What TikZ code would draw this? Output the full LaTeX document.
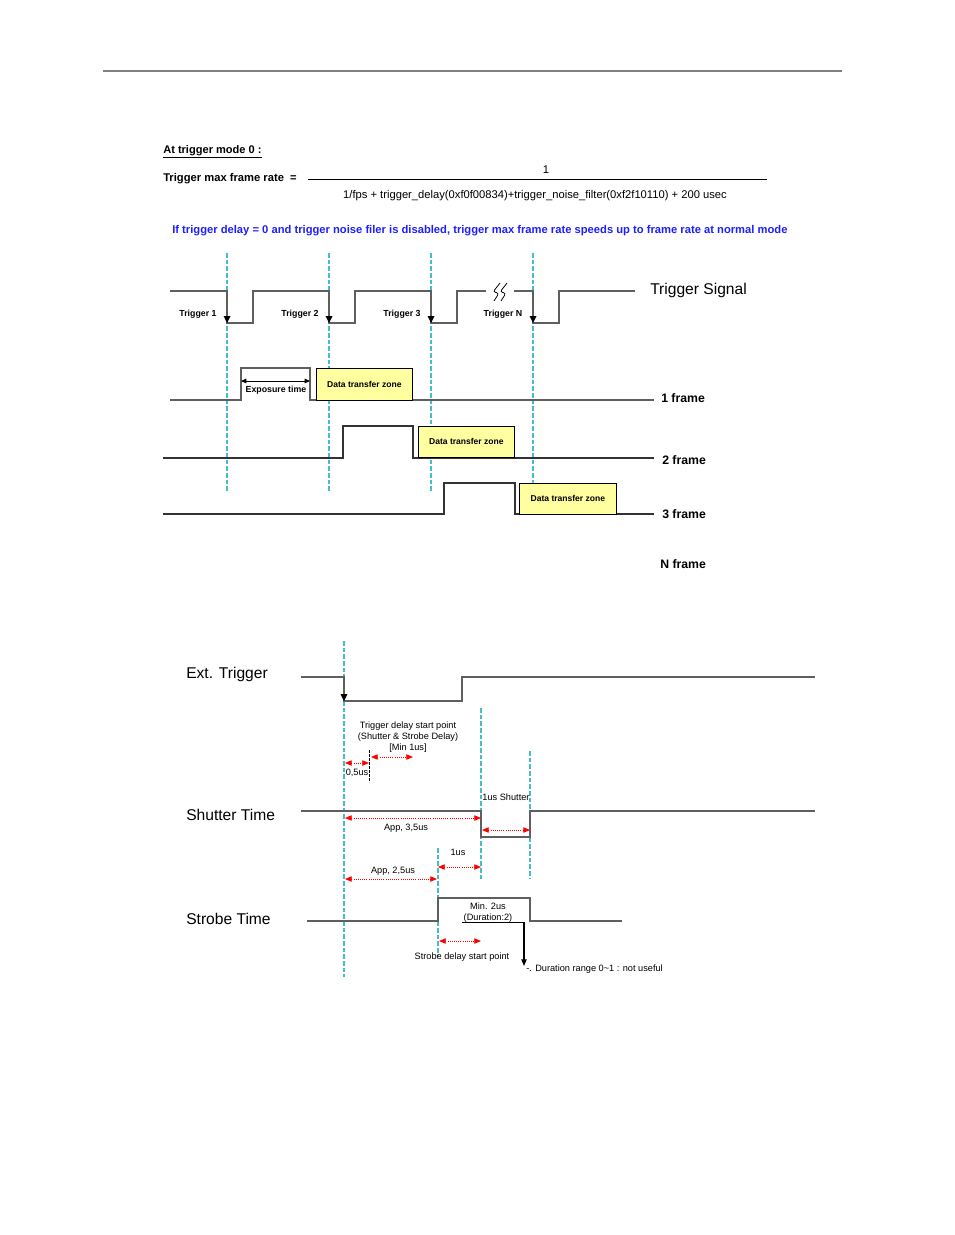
\documentclass[tikz,border=0pt]{standalone}
\usepackage{fontspec}
\setmainfont{Liberation Sans}
\usetikzlibrary{arrows.meta}
\definecolor{cy}{RGB}{70,190,200}
\definecolor{sig}{RGB}{95,95,95}
\definecolor{dtz}{RGB}{255,255,160}
\definecolor{bl}{RGB}{30,30,255}
\definecolor{rd}{RGB}{255,0,0}
\begin{document}
\begin{tikzpicture}[x=0.75pt,y=-0.75pt,
  cdash/.style={cy,line width=0.9pt,dash pattern=on 3.5pt off 1.5pt},
  sigline/.style={sig,line width=1.1pt},
  rarrow/.style={rd,line width=0.6pt,densely dotted,{Triangle[width=4pt,length=5pt]}-{Triangle[width=4pt,length=5pt]}},
  barrow/.style={black,line width=0.6pt,{Triangle[width=3.5pt,length=4pt]}-{Triangle[width=3.5pt,length=4pt]}},
  dtzbox/.style={draw=black,fill=dtz,line width=0.6pt,font=\bfseries\fontsize{6.4}{7}\selectfont,inner sep=0pt},
  small/.style={font=\fontsize{6.9}{8}\selectfont,inner sep=0pt},
  tlab/.style={font=\bfseries\fontsize{6.6}{7}\selectfont,inner sep=0pt},
  flab/.style={font=\bfseries\fontsize{9.2}{10}\selectfont,anchor=west,inner sep=0pt},
  biglab/.style={font=\fontsize{11.7}{13}\selectfont,anchor=west,inner sep=0pt},
  tip/.style={fill=black}
]
\useasboundingbox (0,0) rectangle (954,1235);
% header rule
\draw[gray,line width=1pt] (103,71) -- (842,71);
% formula
\node[anchor=west,inner sep=0pt,font=\bfseries\fontsize{8.3}{9}\selectfont] (mode) at (163,152) {\underline{At trigger mode 0 :}};
\node[anchor=west,inner sep=0pt,font=\bfseries\fontsize{8.4}{9}\selectfont] (tmf) at (163,178.5) {Trigger max frame rate \ =};
\draw[black,line width=0.5pt] (308,179) -- (767,179);
\node[inner sep=0pt,font=\fontsize{8.4}{9}\selectfont] (one) at (546,170) {1};
\node[inner sep=0pt,font=\fontsize{8.4}{9}\selectfont] (den) at (535,195.5) {1/fps + trigger\_delay(0xf0f00834)+trigger\_noise\_filter(0xf2f10110) + 200 usec};
\node[anchor=west,inner sep=0pt,text=bl,font=\bfseries\fontsize{8.4}{9}\selectfont] (note) at (172,230.5) {If trigger delay = 0 and trigger noise filer is disabled, trigger max frame rate speeds up to frame rate at normal mode};
% dashed cyan lines (upper)
\draw[cdash] (227,253) -- (227,492);
\draw[cdash] (329,253) -- (329,492);
\draw[cdash] (431,253) -- (431,492);
\draw[cdash] (533,253) -- (533,505);
% trigger signal
\draw[sigline] (170,291) -- (227,291) -- (227,323) -- (253,323) -- (253,291) -- (329,291) -- (329,323) -- (355,323) -- (355,291) -- (431,291) -- (431,323) -- (457,323) -- (457,291) -- (486,291);
\draw[sigline] (514,291) -- (533,291) -- (533,323) -- (559,323) -- (559,291) -- (635,291);
\foreach \x in {227,329,431,533} \fill[tip] (\x-3.5,316) -- (\x+3.5,316) -- (\x,323) -- cycle;
\draw[black,line width=0.6pt,rounded corners=2pt] (500,283) -- (493,292) -- (499,293) -- (494,301);
\draw[black,line width=0.6pt,rounded corners=2pt] (507,283) -- (500,292) -- (506,293) -- (501,301);
\node[tlab] (t1) at (198,314.5) {Trigger 1};
\node[tlab] (t2) at (300,314.5) {Trigger 2};
\node[tlab] (t3) at (402,314.5) {Trigger 3};
\node[tlab] (tn) at (503,314.5) {Trigger N};
\node[biglab] (ts) at (650,290) {Trigger Signal};
% frame 1
\draw[sigline] (170,400) -- (241,400) -- (241,368) -- (310,368) -- (310,400) -- (654,400);
\node[dtzbox,minimum width=96*0.75pt,minimum height=32*0.75pt,anchor=north west] (d1) at (316,368) {Data transfer zone};
\draw[barrow] (241,381) -- (310,381);
\node[tlab] (exp) at (276,390.5) {Exposure time};
\node[flab] (f1) at (661,398) {1 frame};
% frame 2
\draw[sigline,black!80] (163,458) -- (343,458) -- (343,426) -- (413,426) -- (413,458) -- (654,458);
\node[dtzbox,minimum width=96*0.75pt,minimum height=31*0.75pt,anchor=north west] (d2) at (418,426) {Data transfer zone};
\node[flab] (f2) at (662,460) {2 frame};
% frame 3
\draw[sigline,black!80] (163,514) -- (444,514) -- (444,483) -- (515,483) -- (515,514) -- (654,514);
\node[dtzbox,minimum width=97*0.75pt,minimum height=31*0.75pt,anchor=north west] (d3) at (519,483) {Data transfer zone};
\node[flab] (f3) at (662,514) {3 frame};
\node[flab] (fn) at (660,564) {N frame};
% ===== lower diagram =====
\draw[cdash] (344,641) -- (344,977);
\draw[cdash] (481,708) -- (481,879);
\draw[cdash] (530,751) -- (530,879);
\draw[cdash] (438,848) -- (438,955);
\draw[black,line width=0.6pt,dash pattern=on 2pt off 1pt] (369,750) -- (369,782);
% ext trigger
\node[biglab] (et) at (186,674) {Ext. Trigger};
\draw[sigline] (301,677) -- (344,677) -- (344,701) -- (462,701) -- (462,677) -- (815,677);
\fill[tip] (340.5,694) -- (347.5,694) -- (344,701) -- cycle;
% shutter
\node[biglab] (st) at (186,815) {Shutter Time};
\draw[sigline] (301,811) -- (481,811) -- (481,837) -- (530,837) -- (530,811) -- (815,811);
% strobe
\node[biglab] (sb) at (186,919) {Strobe Time};
\draw[sigline] (307,921) -- (438,921) -- (438,898) -- (530,898) -- (530,921) -- (622,921);
% labels
\node[small,align=center] (tds) at (408,737) {Trigger delay start point\\(Shutter \& Strobe Delay)\\{[}Min 1us{]}};
\draw[rarrow] (345,763) -- (369,763);
\node[small] (h05) at (357,772.5) {0,5us};
\draw[rarrow] (371,757) -- (413,757);
\node[small] (shl) at (506,797.5) {1us Shutter};
\draw[rarrow] (345,818) -- (481,818);
\node[small] (a35) at (406,828.5) {App, 3,5us};
\draw[rarrow] (482,830) -- (530,830);
\node[small] (l1us) at (458,852.5) {1us};
\draw[rarrow] (438,867) -- (481,867);
\node[small] (a25) at (393,871.5) {App, 2,5us};
\draw[rarrow] (345,879) -- (437,879);
\node[small,align=center] (min2) at (488,912.5) {Min. 2us\\(Duration:2)};
\draw[black,line width=0.6pt] (462,922) -- (524,922);
\draw[black,line width=0.8pt,-{Triangle[width=4pt,length=5pt]}] (524,922) -- (524,966);
\draw[rd,line width=0.6pt,densely dotted,{Triangle[width=4pt,length=5pt]}-{Triangle[width=4pt,length=5pt]}] (439,941) -- (481,941);
\node[small] (sds) at (462,957.5) {Strobe delay start point};
\node[small,anchor=west] (dr) at (526,969.5) {-. Duration range 0\textasciitilde 1 : not useful};
\end{tikzpicture}
\end{document}
